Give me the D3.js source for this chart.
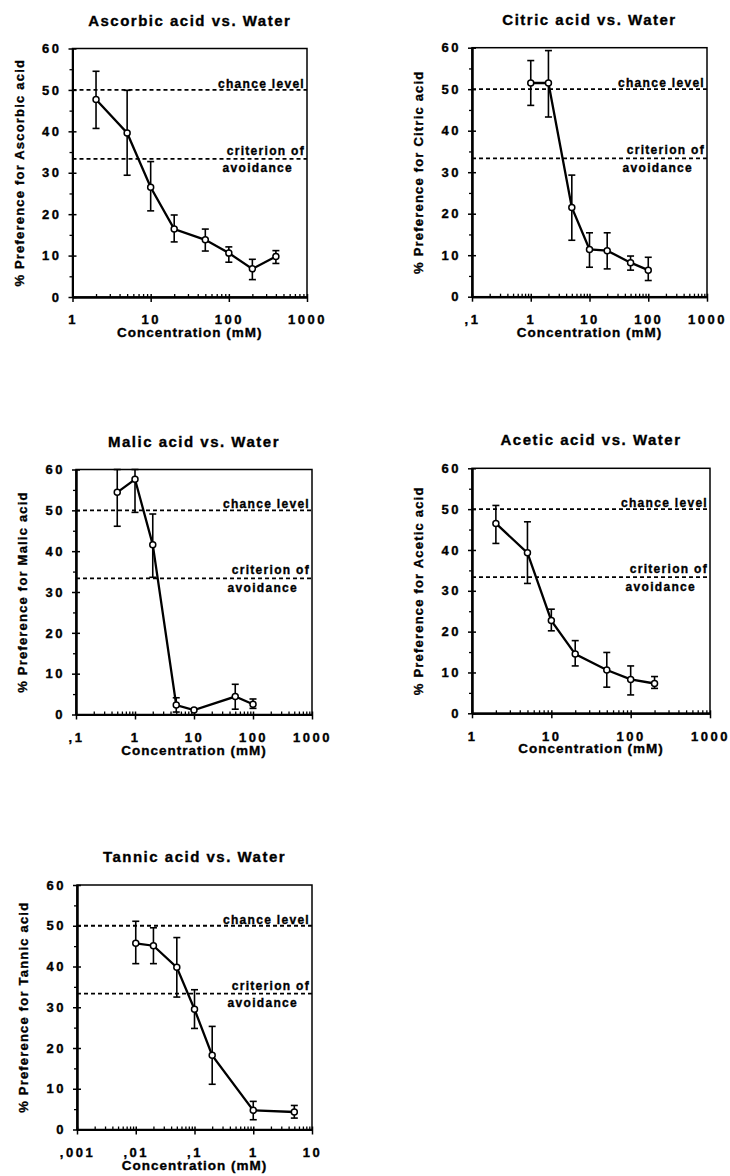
<!DOCTYPE html>
<html>
<head>
<meta charset="utf-8">
<script src="https://cdn.jsdelivr.net/npm/d3@7"></script>
<style>
  body { margin: 0; background: #fff; }
  text { font-family: "Liberation Sans", Arial, sans-serif; font-weight: bold; fill: #000;
         stroke: #000; stroke-width: 0.35px; }
</style>
</head>
<body>
<div id="chart-area"></div>
<script>
// values (mean, upper and lower end of the error bar)
const ascorbicConc = [2, 5, 10, 20, 50, 100, 200, 400];
const ascorbicPref = [47.7, 39.6, 26.5, 16.4, 13.8, 10.6, 6.8, 9.8];
const ascorbicHi   = [54.5, 49.9, 32.7, 19.8, 16.4, 12.1, 9.1, 11.2];
const ascorbicLo   = [40.7, 29.4, 20.8, 13.3, 11.1, 8.4, 4.2, 8.1];

const citricConc = [1, 2, 5, 10, 20, 50, 100];
const citricPref = [51.5, 51.5, 21.5, 11.4, 11.1, 8.2, 6.4];
const citricHi   = [56.9, 59.3, 29.3, 15.4, 15.4, 9.8, 9.5];
const citricLo   = [46.1, 43.3, 13.6, 7.1, 6.7, 6.4, 3.9];

const malicConc = [0.5, 1, 2, 5, 10, 50, 100];
const malicPref = [54.4, 57.6, 41.6, 2.3, 1.1, 4.4, 2.5];
const malicHi   = [60, 60, 49.1, 4.1, 1.1, 7.4, 3.8];
const malicLo   = [46.1, 49.5, 33.6, 0.6, 1.1, 1.3, 1.5];

const aceticConc = [2, 5, 10, 20, 50, 100, 200];
const aceticPref = [46.5, 39.3, 22.7, 14.5, 10.6, 8.3, 7.3];
const aceticHi   = [50.9, 46.9, 25.5, 17.8, 14.9, 11.6, 9.0];
const aceticLo   = [41.6, 31.8, 20.2, 11.6, 6.4, 4.5, 6.1];

const tannicConc = [0.01, 0.02, 0.05, 0.1, 0.2, 1, 5];
const tannicPref = [45.7, 45.1, 39.8, 29.5, 18.2, 4.7, 4.3];
const tannicHi   = [51.1, 49.5, 47.1, 34.3, 25.3, 6.9, 5.9];
const tannicLo   = [40.7, 40.7, 32.5, 24.8, 11.1, 2.4, 2.8];

const yMajorTicks = [0, 10, 20, 30, 40, 50, 60];
const yMinorTicks = [5, 15, 25, 35, 45, 55];
const chanceLevel = 50;
const criterionLevel = 100 / 3;

const xLabels1 = ["1", "10", "100", "1000"];
const xLabels01 = [",1", "1", "10", "100", "1000"];
const xLabels001 = [",001", ",01", ",1", "1", "10"];

const svg = d3.select("#chart-area").append("svg")
    .attr("width", 730)
    .attr("height", 1176);

function rows(conc, pref, hi, lo) {
    return conc.map((c, i) => ({c: c, v: pref[i], hi: hi[i], lo: lo[i]}));
}

plotPanel({left: 72.5, top: 48.5, width: 234.5, height: 248.5, domain: [1, 1000], labels: xLabels1,
    title: "Ascorbic acid vs. Water", yLabel: "% Preference for Ascorbic acid",
    data: rows(ascorbicConc, ascorbicPref, ascorbicHi, ascorbicLo)});
plotPanel({left: 472, top: 47.7, width: 235, height: 249, domain: [0.1, 1000], labels: xLabels01,
    title: "Citric acid vs. Water", yLabel: "% Preference for Citric acid",
    data: rows(citricConc, citricPref, citricHi, citricLo)});
plotPanel({left: 76, top: 469.5, width: 236, height: 245, domain: [0.1, 1000], labels: xLabels01,
    title: "Malic acid vs. Water", yLabel: "% Preference for Malic acid",
    data: rows(malicConc, malicPref, malicHi, malicLo)});
plotPanel({left: 472, top: 468.3, width: 238, height: 245, domain: [1, 1000], labels: xLabels1,
    title: "Acetic acid vs. Water", yLabel: "% Preference for Acetic acid",
    data: rows(aceticConc, aceticPref, aceticHi, aceticLo)});
plotPanel({left: 77, top: 885, width: 235, height: 244.5, domain: [0.001, 10], labels: xLabels001,
    title: "Tannic acid vs. Water", yLabel: "% Preference for Tannic acid",
    data: rows(tannicConc, tannicPref, tannicHi, tannicLo)});

function plotPanel(p) {
    const w = p.width, h = p.height;
    const g = svg.append("g").attr("transform", `translate(${p.left},${p.top})`);
    const x = d3.scaleLog().domain(p.domain).range([0, w]);
    const y = d3.scaleLinear().domain([0, 60]).range([h, 0]);

    // decades and the 2..9 steps between them
    const decades = p.labels.map((l, i) => p.domain[0] * Math.pow(10, i));
    const minors = [];
    decades.slice(0, -1).forEach(d => d3.range(2, 10).forEach(k => minors.push(d * k)));

    // frame
    g.append("rect")
        .attr("width", w).attr("height", h)
        .attr("fill", "none").attr("stroke", "#000").attr("stroke-width", 1.5);

    // reference lines
    [chanceLevel, criterionLevel].forEach(v => {
        g.append("line")
            .attr("x1", 0).attr("x2", w)
            .attr("y1", y(v)).attr("y2", y(v))
            .attr("stroke", "#000").attr("stroke-width", 1.8)
            .attr("stroke-dasharray", "4,3");
    });
    addNote(g, "chance level", w - 2, y(chanceLevel) - 2);
    addNote(g, "criterion of", w - 2, y(criterionLevel) - 4);
    addNote(g, "avoidance", w - 14, y(criterionLevel) + 13.5);

    // y axis
    const yAxis = g.append("g")
        .call(d3.axisLeft(y).tickValues(yMajorTicks).tickSize(4).tickSizeOuter(0).tickPadding(7));
    yAxis.selectAll(".tick line").attr("x1", 4).attr("stroke-width", 1.5);
    g.append("g")
        .call(d3.axisLeft(y).tickValues(yMinorTicks).tickSize(3).tickSizeOuter(0).tickFormat(""))
        .selectAll(".tick line").attr("stroke-width", 1.3);

    // x axis
    const xAxis = g.append("g")
        .attr("transform", `translate(0,${h})`)
        .call(d3.axisBottom(x).tickValues(decades).tickSize(5).tickSizeOuter(0).tickPadding(13)
            .tickFormat((d, i) => p.labels[i]));
    xAxis.selectAll(".tick line").attr("y1", -3).attr("stroke-width", 1.5);
    g.append("g")
        .attr("transform", `translate(0,${h})`)
        .call(d3.axisBottom(x).tickValues(minors).tickSize(-3).tickSizeOuter(0).tickFormat(""))
        .selectAll(".tick line").attr("stroke-width", 1.3);

    g.selectAll(".domain").attr("stroke-width", 2);
    g.selectAll(".tick text")
        .attr("font-size", "13px")
        .attr("letter-spacing", "2.5px")
        .attr("fill", "#000");

    // error bars
    const bars = g.append("g").selectAll("g")
        .data(p.data.filter(d => d.hi - d.lo > 0.5))
        .join("g")
        .attr("stroke", "#000").attr("stroke-width", 1.6);
    bars.append("line")
        .attr("x1", d => x(d.c)).attr("x2", d => x(d.c))
        .attr("y1", d => y(d.hi)).attr("y2", d => y(d.lo));
    bars.append("line")
        .attr("x1", d => x(d.c) - 3.5).attr("x2", d => x(d.c) + 3.5)
        .attr("y1", d => y(d.hi)).attr("y2", d => y(d.hi));
    bars.append("line")
        .attr("x1", d => x(d.c) - 3.5).attr("x2", d => x(d.c) + 3.5)
        .attr("y1", d => y(d.lo)).attr("y2", d => y(d.lo));

    // mean line and markers
    g.append("path")
        .datum(p.data)
        .attr("fill", "none").attr("stroke", "#000").attr("stroke-width", 2.3)
        .attr("d", d3.line().x(d => x(d.c)).y(d => y(d.v)));
    g.append("g").selectAll("circle")
        .data(p.data)
        .join("circle")
        .attr("cx", d => x(d.c)).attr("cy", d => y(d.v)).attr("r", 3)
        .attr("fill", "#fff").attr("stroke", "#000").attr("stroke-width", 1.5);

    // titles
    g.append("text")
        .attr("x", w / 2).attr("y", -23)
        .attr("text-anchor", "middle")
        .attr("font-size", "15px").attr("letter-spacing", "1.5px")
        .text(p.title);
    g.append("text")
        .attr("x", w / 2).attr("y", h + 40)
        .attr("text-anchor", "middle")
        .attr("font-size", "13.5px").attr("letter-spacing", "1px")
        .text("Concentration (mM)");
    g.append("text")
        .attr("transform", "rotate(-90)")
        .attr("x", -h / 2).attr("y", -49)
        .attr("text-anchor", "middle")
        .attr("font-size", "13px").attr("letter-spacing", "1.2px")
        .text(p.yLabel);
}

function addNote(to, label, x, y) {
    return to.append("text")
        .attr("x", x).attr("y", y)
        .attr("text-anchor", "end")
        .attr("font-size", "12px")
        .attr("letter-spacing", "1.3px")
        .text(label);
}
</script>
</body>
</html>
